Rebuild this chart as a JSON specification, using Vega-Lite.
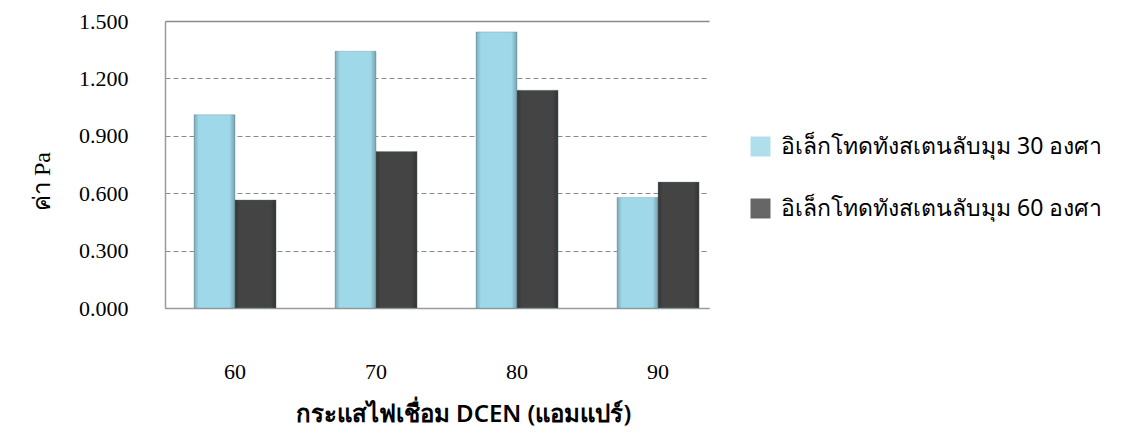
{
  "$schema": "https://vega.github.io/schema/vega-lite/v6.json",
  "width": 544,
  "height": 287,
  "autosize": {"type": "none"},
  "padding": {"left": 165, "top": 21, "right": 424, "bottom": 131},
  "background": "white",
  "config": {
    "view": {"stroke": null},
    "axis": {"labelColor": "#000", "titleColor": "#000", "ticks": false}
  },
  "data": {
    "values": [
      {"current": "60", "series": "อิเล็กโทดทังสเตนลับมุม 30 องศา", "value": 1.010},
      {"current": "60", "series": "อิเล็กโทดทังสเตนลับมุม 60 องศา", "value": 0.565},
      {"current": "70", "series": "อิเล็กโทดทังสเตนลับมุม 30 องศา", "value": 1.342},
      {"current": "70", "series": "อิเล็กโทดทังสเตนลับมุม 60 องศา", "value": 0.818},
      {"current": "80", "series": "อิเล็กโทดทังสเตนลับมุม 30 องศา", "value": 1.443},
      {"current": "80", "series": "อิเล็กโทดทังสเตนลับมุม 60 องศา", "value": 1.138},
      {"current": "90", "series": "อิเล็กโทดทังสเตนลับมุม 30 องศา", "value": 0.578},
      {"current": "90", "series": "อิเล็กโทดทังสเตนลับมุม 60 องศา", "value": 0.658}
    ]
  },
  "layer": [
    {
      "mark": {"type": "bar", "stroke": "#5f8f9c", "strokeOpacity": 0.35, "strokeWidth": 1},
      "encoding": {
        "x": {
          "field": "current",
          "type": "ordinal",
          "scale": {"paddingInner": 0.418, "paddingOuter": 0.138, "align": 0.745},
          "axis": {
            "title": "กระแสไฟเชื่อม DCEN (แอมแปร์)",
            "titleFont": "Noto Sans",
            "titleFontSize": 24,
            "titleFontWeight": 600,
            "titlePadding": 20,
            "titleX": 298,
            "titleAnchor": "middle",
            "labelAngle": 0,
            "labelFont": "Liberation Serif",
            "labelFontSize": 22,
            "labelPadding": 53,
            "domainColor": "#9a9a9a",
            "domainWidth": 1.5
          }
        },
        "xOffset": {"field": "series", "scale": {"paddingInner": 0, "paddingOuter": 0}},
        "y": {
          "field": "value",
          "type": "quantitative",
          "scale": {"domain": [0, 1.5], "nice": false},
          "axis": {
            "title": "ค่า Pa",
            "titleFont": "Liberation Serif",
            "titleFontSize": 24,
            "titleFontWeight": "normal",
            "titlePadding": 24,
            "titleY": 160,
            "values": [0, 0.3, 0.6, 0.9, 1.2, 1.5],
            "format": ".3f",
            "labelFont": "Liberation Serif",
            "labelFontSize": 22,
            "labelPadding": 37,
            "domainColor": "#9a9a9a",
            "domainWidth": 1.5,
            "grid": true,
            "gridColor": "#8a8a8a",
            "gridWidth": {"condition": {"test": "datum.value >= 1.5", "value": 1.5}, "value": 1.2},
            "gridDash": {"condition": {"test": "datum.value >= 1.5 || datum.value <= 0", "value": []}, "value": [5, 3]}
          }
        },
        "color": {
          "field": "series",
          "type": "nominal",
          "scale": {"range": ["#9fd8e8", "#444444"]},
          "legend": {
            "title": null,
            "orient": "none",
            "legendX": 584,
            "legendY": 114,
            "padding": 0,
            "symbolType": "square",
            "symbolSize": 400,
            "symbolStrokeWidth": 0,
            "symbolOpacity": 0.82,
            "labelFont": "Noto Sans",
            "labelFontSize": 23,
            "labelColor": "#000",
            "labelLimit": 600,
            "labelOffset": 9,
            "rowPadding": 38
          }
        }
      }
    },
    {
      "mark": {
        "type": "bar",
        "color": {
          "gradient": "linear",
          "x1": 0, "x2": 1, "y1": 0, "y2": 0,
          "stops": [
            {"offset": 0, "color": "rgba(0,0,0,0.22)"},
            {"offset": 0.12, "color": "rgba(0,0,0,0)"},
            {"offset": 0.86, "color": "rgba(0,0,0,0)"},
            {"offset": 1, "color": "rgba(0,0,0,0.25)"}
          ]
        }
      },
      "encoding": {
        "x": {"field": "current", "type": "ordinal"},
        "xOffset": {"field": "series"},
        "y": {"field": "value", "type": "quantitative"}
      }
    }
  ]
}
